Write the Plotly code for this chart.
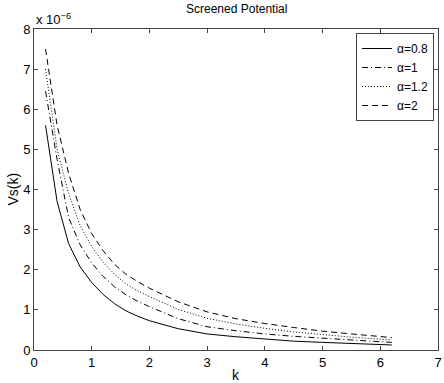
import plotly.graph_objects as go

k = [0.2, 0.4, 0.6, 0.8, 1.0, 1.2, 1.4, 1.6, 1.8, 2.0, 2.5, 3.0, 3.5, 4.0, 4.5, 5.0, 5.5, 6.2]
vs_a08 = [5.6, 3.7, 2.65, 2.07, 1.68, 1.38, 1.15, 0.97, 0.84, 0.73, 0.53, 0.4, 0.33, 0.27, 0.22, 0.19, 0.16, 0.125]
vs_a1 = [6.45, 4.75, 3.3, 2.62, 2.17, 1.83, 1.57, 1.37, 1.21, 1.08, 0.78, 0.58, 0.48, 0.4, 0.34, 0.29, 0.25, 0.19]
vs_a12 = [7.0, 5.0, 3.9, 3.1, 2.58, 2.18, 1.88, 1.64, 1.47, 1.33, 1.01, 0.79, 0.65, 0.54, 0.45, 0.38, 0.32, 0.25]
vs_a2 = [7.5, 5.6, 4.4, 3.5, 2.9, 2.47, 2.13, 1.88, 1.7, 1.54, 1.2, 0.95, 0.78, 0.66, 0.56, 0.47, 0.4, 0.31]

names = ["α=0.8", "α=1", "α=1.2", "α=2"]
series = [vs_a08, vs_a1, vs_a12, vs_a2]
dashes = ["solid", "6px,3px,1px,3px", "1px,2px", "6px,4px"]

FONT = "Liberation Sans, Arial, Helvetica, sans-serif"

fig = go.Figure()
for n, s, d in zip(names, series, dashes):
    fig.add_trace(go.Scatter(x=k, y=s, mode="lines", name=n,
                             line=dict(color="black", width=1, dash=d)))

axis_common = dict(showgrid=False, zeroline=False, showline=True, linecolor="#444",
                   linewidth=1, mirror="ticks", ticks="inside", ticklen=4,
                   tickcolor="#444", ticklabeloverflow="allow",
                   tickfont=dict(size=13, color="black", family=FONT))

fig.update_xaxes(range=[0, 7], dtick=1, tick0=0, **axis_common)
fig.update_yaxes(range=[0, 8], dtick=1, tick0=0, **axis_common)

fig.update_layout(
    width=444, height=383,
    margin=dict(l=34, r=2, t=29, b=33),
    paper_bgcolor="white", plot_bgcolor="white",
    font=dict(family=FONT, size=12, color="black"),
    showlegend=True,
    legend=dict(x=0.99, xanchor="right", y=0.9875, yanchor="top",
                bordercolor="#444", borderwidth=1, bgcolor="white",
                itemwidth=30, tracegroupgap=0,
                font=dict(size=12, color="black", family=FONT)),
    annotations=[
        dict(text="x 10<sup>−6</sup>", xref="paper", yref="paper", x=0.0, y=1.0,
             xanchor="left", yanchor="bottom", showarrow=False,
             font=dict(size=13, color="black", family=FONT)),
        dict(text="Screened Potential", xref="paper", yref="paper", x=0.5, y=1.0,
             xanchor="center", yanchor="bottom", yshift=11, showarrow=False,
             font=dict(size=12, color="black", family=FONT)),
        dict(text="k", xref="paper", yref="paper", x=0.5, y=0.0,
             xanchor="center", yanchor="middle", yshift=-25, showarrow=False,
             font=dict(size=14, color="black", family=FONT)),
        dict(text="Vs(k)", xref="paper", yref="paper", x=0.0, y=0.5,
             xanchor="center", yanchor="middle", xshift=-22, textangle=-90, showarrow=False,
             font=dict(size=14, color="black", family=FONT)),
    ],
)

fig.write_html("out.html", config={"displayModeBar": False},
               post_script="document.body.style.margin='0';document.body.style.overflow='hidden';")
